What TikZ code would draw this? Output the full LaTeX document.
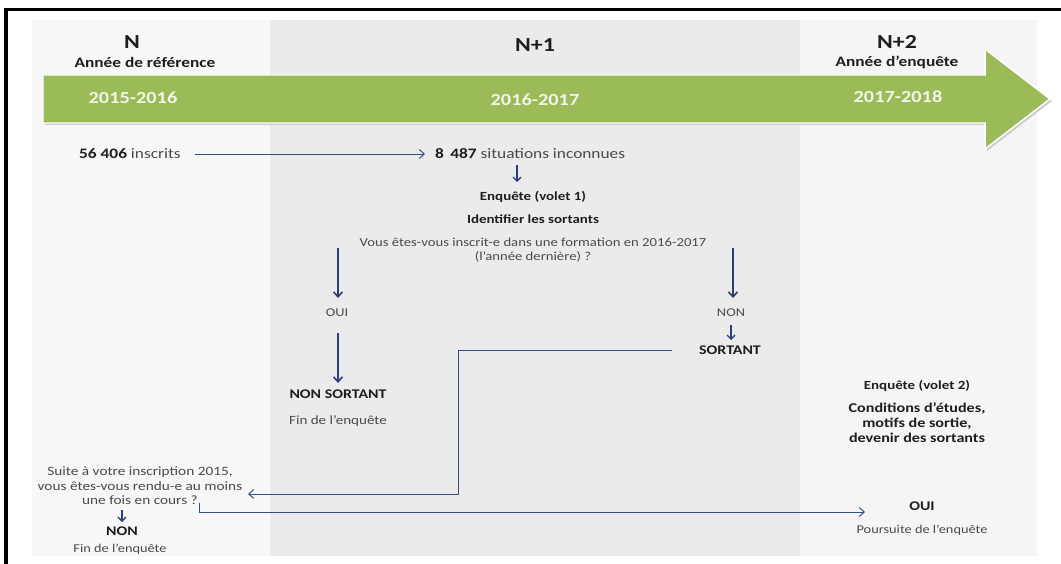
\documentclass[tikz,border=0pt]{standalone}
\usepackage{fontspec}
\setmainfont{Carlito}[FakeStretch=1.2]
\usetikzlibrary{arrows.meta}
\definecolor{txt}{HTML}{4A4A4A}
\definecolor{txtb}{HTML}{1E1E1E}
\definecolor{arr}{HTML}{2E3F7A}
\definecolor{lnk}{HTML}{33507E}
\definecolor{grn}{HTML}{9BBB59}
\definecolor{yrs}{HTML}{F2F6E6}
\definecolor{pnlL}{HTML}{F7F7F7}
\definecolor{pnlM}{HTML}{EBEBEB}
\definecolor{pnlR}{HTML}{F5F5F5}
\tikzset{
  lbl/.style={inner sep=0pt, text=txt, font=\fontsize{11}{13}\selectfont, align=center},
  lblb/.style={inner sep=0pt, text=txtb, font=\fontsize{13.3}{15}\selectfont\bfseries, align=center},
  head/.style={inner sep=0pt, text=txtb, font=\fontsize{20}{22}\selectfont\bfseries},
  sub/.style={inner sep=0pt, text=txtb, font=\fontsize{14.5}{16}\selectfont\bfseries},
  year/.style={inner sep=0pt, text=yrs, font=\fontsize{17}{19}\selectfont\bfseries},
  bigarr/.style={draw=arr, line width=1.6pt, -{Straight Barb[length=5pt,width=9pt]}},
  smallarr/.style={draw=arr, line width=1.3pt, -{Straight Barb[length=4pt,width=8pt]}},
  link/.style={draw=lnk, line width=1pt, -{Straight Barb[length=5pt,width=9pt]}},
}
\begin{document}
\begin{tikzpicture}[x=1bp,y=-1bp]
\useasboundingbox (0,0) rectangle (1061,564);
\fill[white] (0,0) rectangle (1061,564);
% panels
\fill[pnlL] (32,20) rectangle (270,556);
\fill[pnlM] (270,20) rectangle (800,556);
\fill[pnlR] (800,20) rectangle (1037,556);
% frame
\fill[black] (4,8) rectangle (1061,11.5);
\fill[black] (4,8) rectangle (7.5,564);
% green arrow
\fill[gray!40] (45,77) -- (987,77) -- (987,51) -- (1052,101) -- (987,151) -- (987,125) -- (45,125) -- cycle;
\filldraw[fill=grn, draw=white, line width=1.5pt] (43,75) -- (985,75) -- (985,49) -- (1050,99) -- (985,149) -- (985,123) -- (43,123) -- cycle;
% headers
\node[head] (hN) at (132,42) {N};
\node[sub] (hNs) at (145,62) {Année de référence};
\node[head] (hN1) at (535,45) {N+1};
\node[head] (hN2) at (897,42) {N+2};
\node[sub] (hN2s) at (897,62) {Année d'enquête};
\node[year] (y1) at (133,98) {2015-2016};
\node[year] (y2) at (535,100) {2016-2017};
\node[year] (y3) at (898,97) {2017-2018};
% flow
\node[lbl, anchor=west, font=\fontsize{14.5}{16}\selectfont] (ins) at (79,154) {\textbf{\color{txtb}56 406} inscrits};
\node[lbl, anchor=west, font=\fontsize{14.5}{16}\selectfont] (inc) at (435,154) {\textbf{\color{txtb}8\, 487} situations inconnues};
\coordinate (insE) at (195,154);
\coordinate (incW) at (425,154);
\draw[link] (insE) -- (incW);
\node[lblb, font=\fontsize{12.5}{15}\selectfont\bfseries] (env1) at (533,197) {Enquête (volet 1)};
\node[lblb, font=\fontsize{12.5}{15}\selectfont\bfseries] (ident) at (533,219) {Identifier les sortants};
\coordinate (d1a) at (517,165);
\coordinate (d1b) at (517,182);
\draw[smallarr] (d1a) -- (d1b);
\node[lbl, font=\fontsize{12.3}{14}\selectfont] (q1) at (533,250) {Vous êtes-vous inscrit-e dans une formation en 2016-2017\\(l'année dernière) ?};
\node[lbl, font=\fontsize{12}{14}\selectfont] (oui1) at (337,313) {OUI};
\node[lbl, font=\fontsize{12}{14}\selectfont] (non1) at (731,313) {NON};
\coordinate (a1) at (338,248);
\coordinate (a1e) at (338,298);
\coordinate (a2) at (733,248);
\coordinate (a2e) at (733,298);
\draw[bigarr] (a1) -- (a1e);
\draw[bigarr] (a2) -- (a2e);
\node[lblb] (nsort) at (338,394) {NON SORTANT};
\coordinate (a3) at (338,333);
\coordinate (a3e) at (338,383);
\draw[bigarr] (a3) -- (a3e);
\node[lbl, font=\fontsize{12.6}{14}\selectfont] (fin1) at (338,421) {Fin de l'enquête};
\node[lblb] (sort) at (730,350) {SORTANT};
\coordinate (a4) at (731,325);
\coordinate (a4e) at (731,340);
\draw[smallarr] (a4) -- (a4e);
\node[lbl, font=\fontsize{12.8}{14.5}\selectfont] (q2) at (140,486) {Suite à votre inscription 2015,\\vous êtes-vous rendu-e au moins\\une fois en cours ?};
\coordinate (sW) at (672,350);
\coordinate (q2E) at (248,494);
\draw[link] (sW) -- (458,350) -- (458,494) -- (q2E);
\coordinate (a5) at (122,510);
\coordinate (a5e) at (122,522);
\draw[smallarr] (a5) -- (a5e);
\node[lblb] (non2) at (122,531) {NON};
\node[lbl, font=\fontsize{12}{14}\selectfont] (fin2) at (120,549) {Fin de l'enquête};
\node[lblb, font=\fontsize{12.5}{15}\selectfont\bfseries] (env2) at (917,386) {Enquête (volet 2)};
\node[lblb, font=\fontsize{13.5}{15}\selectfont\bfseries] (cond) at (917,423) {Conditions d'études,\\motifs de sortie,\\ devenir des sortants};
\node[lblb] (oui2) at (922,506) {OUI};
\node[lbl, font=\fontsize{12}{14}\selectfont] (pours) at (922,530) {Poursuite de l'enquête};
\coordinate (q2S) at (199,503);
\coordinate (oui2W) at (865,512);
\draw[link] (q2S) -- (199,512) -- (oui2W);
\end{tikzpicture}
\end{document}
